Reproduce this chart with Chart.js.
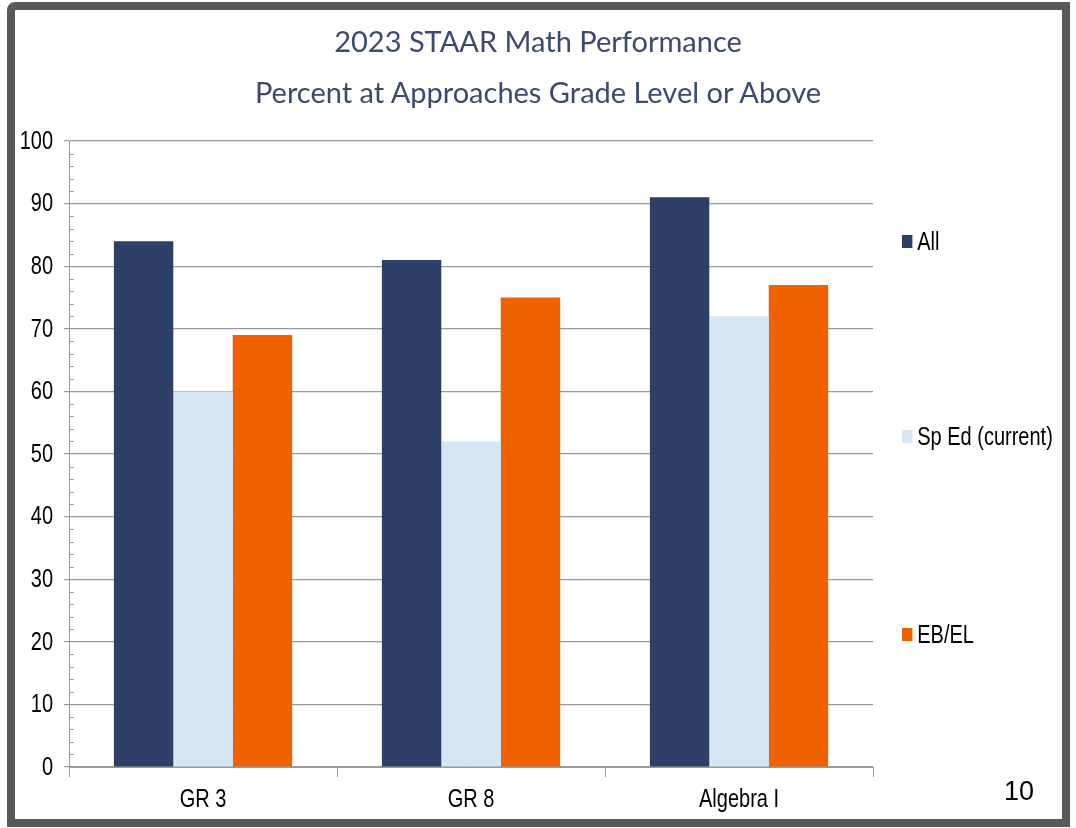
<!DOCTYPE html>
<html>
<head>
<meta charset="utf-8">
<script src="https://cdn.jsdelivr.net/npm/chart.js@4.4.1/dist/chart.umd.min.js"></script>
<style>
    html, body { margin: 0; padding: 0; background: #fff; }
    #wrap { position: relative; width: 1076px; height: 828px; overflow: hidden; }
    #frame {
        position: absolute; left: 7px; top: 2px; width: 1047px; height: 809px;
        border: 8px solid #595959; border-top-left-radius: 8px; pointer-events: none;
    }
    .title {
        position: absolute; left: 0; width: 1076px; text-align: center;
        font-family: Lato, "Open Sans", sans-serif; font-size: 29px; color: #3b4a6e;
    }
    #legend { position: absolute; left: 902px; top: 0; }
    .legend-item {
        position: absolute; display: flex; align-items: center; white-space: nowrap;
        font-family: "Liberation Sans", Arial, sans-serif; font-size: 25px; color: #000;
        transform: scaleX(0.8); transform-origin: left center;
    }
    .legend-box { width: 13px; height: 13px; margin-right: 6px; }
    #page-num {
        position: absolute; left: 1004px; top: 776px;
        font-family: "Liberation Sans", Arial, sans-serif; font-size: 27px; color: #000;
    }
</style>
</head>
<body>
<div id="wrap">
    <canvas id="chart" width="1076" height="828"></canvas>
    <div class="title" style="top: 23px;">2023 STAAR Math Performance</div>
    <div class="title" style="top: 74px;">Percent at Approaches Grade Level or Above</div>
    <div id="legend"></div>
    <div id="page-num">10</div>
    <div id="frame"></div>
</div>
<script>
const categories = ["GR 3", "GR 8", "Algebra I"];
const seriesNames = ["All", "Sp Ed (current)", "EB/EL"];
const allValues = [84, 81, 91];
const spEdValues = [60, 52, 72];
const ebElValues = [69, 75, 77];
const seriesColors = ["#2e4068", "#d6e6f4", "#f06100"];
const yTicks = [0, 10, 20, 30, 40, 50, 60, 70, 80, 90, 100];

const gridGray = "#9a9a9a";
const labelFont = "25px 'Liberation Sans', Arial, sans-serif";
const narrowScale = 0.8;

// small inside ticks on the value axis, every 2 units
const minorTicks = {
    id: "minorTicks",
    afterDraw(chart) {
        const y = chart.scales.y;
        const left = chart.chartArea.left;
        const ctx = chart.ctx;
        ctx.save();
        ctx.strokeStyle = gridGray;
        ctx.lineWidth = 1;
        for (let v = y.min; v <= y.max; v += 2) {
            if (v % 10 === 0) continue;
            const py = Math.round(y.getPixelForValue(v)) + 0.5;
            ctx.beginPath();
            ctx.moveTo(left + 1, py);
            ctx.lineTo(left + 5, py);
            ctx.stroke();
        }
        ctx.restore();
    }
};

// tick labels in a condensed look (Arial Narrow style)
function drawNarrow(ctx, text, x, y, align) {
    ctx.save();
    ctx.translate(x, y);
    ctx.scale(narrowScale, 1);
    ctx.textAlign = align;
    ctx.fillText(text, 0, 0);
    ctx.restore();
}

const narrowLabels = {
    id: "narrowLabels",
    afterDraw(chart) {
        const ctx = chart.ctx;
        const { x, y } = chart.scales;
        ctx.save();
        ctx.font = labelFont;
        ctx.fillStyle = "#000";
        ctx.textBaseline = "middle";
        y.ticks.forEach((tick, i) => {
            drawNarrow(ctx, String(tick.value), chart.chartArea.left - 16, y.getPixelForTick(i) + 1, "right");
        });
        x.ticks.forEach((tick, i) => {
            drawNarrow(ctx, x.getLabelForValue(tick.value), x.getPixelForTick(i), chart.chartArea.bottom + 33, "center");
        });
        ctx.restore();
    }
};

function renderLegend() {
    const legend = document.getElementById("legend");
    const rows = [227, 422, 620];
    seriesNames.forEach((name, i) => {
        const item = document.createElement("div");
        item.className = "legend-item";
        item.style.top = `${rows[i]}px`;
        item.innerHTML = `<span class="legend-box" style="background:${seriesColors[i]}"></span>${name}`;
        legend.appendChild(item);
    });
}

const datasetValues = [allValues, spEdValues, ebElValues];

new Chart(document.getElementById("chart"), {
    type: "bar",
    data: {
        labels: categories,
        datasets: seriesNames.map((name, i) => ({
            label: name,
            data: datasetValues[i],
            backgroundColor: seriesColors[i],
            borderWidth: 0,
            categoryPercentage: 0.665,
            barPercentage: 1.0
        }))
    },
    options: {
        responsive: false,
        animation: false,
        layout: { padding: { top: 141, right: 203, bottom: 0, left: 0 } },
        plugins: {
            legend: { display: false },
            tooltip: { enabled: false }
        },
        scales: {
            x: {
                grid: {
                    display: true,
                    offset: true,
                    drawOnChartArea: false,
                    tickLength: 10,
                    color: gridGray
                },
                border: { color: gridGray, width: 1 },
                ticks: { display: false },
                afterFit: (scale) => { scale.height = 61; }
            },
            y: {
                min: 0,
                max: 100,
                afterBuildTicks: (scale) => { scale.ticks = yTicks.map((v) => ({ value: v })); },
                grid: { color: gridGray, tickLength: 5, lineWidth: 1.2 },
                border: { color: gridGray, width: 1 },
                ticks: { display: false },
                afterFit: (scale) => { scale.width = 69; }
            }
        }
    },
    plugins: [minorTicks, narrowLabels]
});

renderLegend();
</script>
</body>
</html>
